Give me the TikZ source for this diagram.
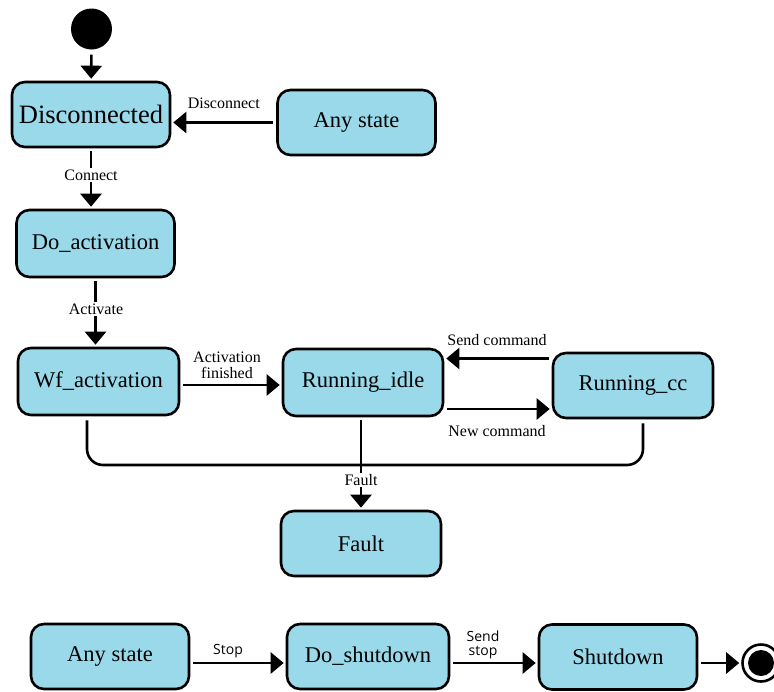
\documentclass[tikz,border=0pt]{standalone}
\usepackage{fontspec}
\setmainfont{Liberation Serif}
\newfontfamily\sansfnt{Open Sans}
\usetikzlibrary{arrows.meta}
\definecolor{stfill}{RGB}{153,217,234}
\begin{document}
\begin{tikzpicture}[x=1pt,y=-1pt,
  stbox/.style={draw=black, line width=2.6pt, rounded corners=13pt, fill=stfill,
    minimum width=158pt, minimum height=65pt, inner sep=2pt,
    font=\fontsize{22.5}{24}\selectfont},
  arr/.style={line width=2.6pt, -{Triangle[width=21pt,length=13pt]},
    shorten <=3pt, shorten >=2pt},
  lbl/.style={font=\fontsize{16}{16}\selectfont, inner sep=1pt, align=center},
  slbl/.style={font=\sansfnt\fontsize{14}{14.5}\selectfont, inner sep=1pt, align=center},
  wlbl/.style={lbl, fill=white, inner sep=1.5pt}
]
\useasboundingbox (0,0) rectangle (774,691);
\clip (0,0) rectangle (774,691);

% states
\node[circle, fill=black, minimum size=41pt, inner sep=0pt] (init) at (91.5,29) {};
\node[stbox, font=\fontsize{26.5}{28}\selectfont] (disc) at (91,114.5) {Disconnected};
\node[stbox] (anytop) at (356.5,122.5) {Any state};
\node[stbox, minimum height=67pt] (doact) at (95.5,243.5) {Do\_activation};
\node[stbox, minimum width=161pt, minimum height=67pt] (wf) at (98.5,381.5) {Wf\_activation};
\node[stbox, minimum width=160pt, minimum height=67pt] (ri) at (363,382.5) {Running\_idle};
\node[stbox, minimum width=160pt] (rcc) at (633,385.5) {Running\_cc};
\node[stbox, minimum width=160pt] (fault) at (361,543.5) {Fault};
\node[stbox] (any2) at (110,656.5) {Any state};
\node[stbox, minimum width=162pt] (doshut) at (368,656.5) {Do\_shutdown};
\node[stbox] (shut) at (618,657) {Shutdown};
\node[circle, draw=black, line width=2.6pt, fill=white, minimum size=37pt, inner sep=0pt] (fin) at (761,663) {};
\fill[black] (fin.center) circle (13pt);

% anchor points for offset connectors
\coordinate (wfE) at ([yshift=-3.5pt]wf.east);
\coordinate (rccW) at ([yshift=27pt]rcc.west);
\coordinate (riE) at ([yshift=-26.5pt]ri.east);
\coordinate (any2E) at ([yshift=-6.5pt]any2.east);
\coordinate (doshutE) at ([yshift=-6.5pt]doshut.east);
\coordinate (shutE) at ([yshift=-6pt]shut.east);

% transitions
\draw[arr, shorten <=5pt] (init) -- (disc);
\draw[arr] (anytop.west) -- (disc.east |- anytop.west)
  node[lbl, midway, yshift=19pt] {Disconnect};
\draw[arr] (disc.south) -- (disc.south |- doact.north);
\node[wlbl] (lconnect) at (91,175) {Connect};
\draw[arr] (doact.south) -- (doact.south |- wf.north);
\node[wlbl] (lactivate) at (96,309) {Activate};
\draw[arr] (wfE) -- (ri.west |- wfE);
\node[lbl] (lactfin) at (227,365) {Activation\\finished};
\draw[arr] (rccW) -- (ri.east |- rccW);
\node[lbl] (lsend) at (497,340) {Send command};
\draw[arr] (riE) -- (rcc.west |- riE);
\node[lbl] (lnew) at (497,431) {New command};

% fault joining
\coordinate (fa) at ([xshift=-11.5pt,yshift=-4pt]wf.south);
\coordinate (fb) at ([xshift=10pt,yshift=-4pt]rcc.south);
\draw[line width=2.6pt, rounded corners=16pt] (fa) -- (fa |- 0,465) -- (fb |- 0,465) -- (fb);
\draw[arr] (fault.north |- ri.south) -- (fault.north);
\node[wlbl] (lfault) at (361,480) {Fault};

% shutdown row
\draw[arr] (any2E) -- (doshut.west |- any2E);
\node[slbl] (lstop) at (228,651) {Stop};
\draw[arr] (doshutE) -- (shut.west |- doshutE);
\node[slbl] (lsendstop) at (483,645) {Send\\stop};
\draw[arr] (shutE) -- (fin.west);
\end{tikzpicture}
\end{document}
